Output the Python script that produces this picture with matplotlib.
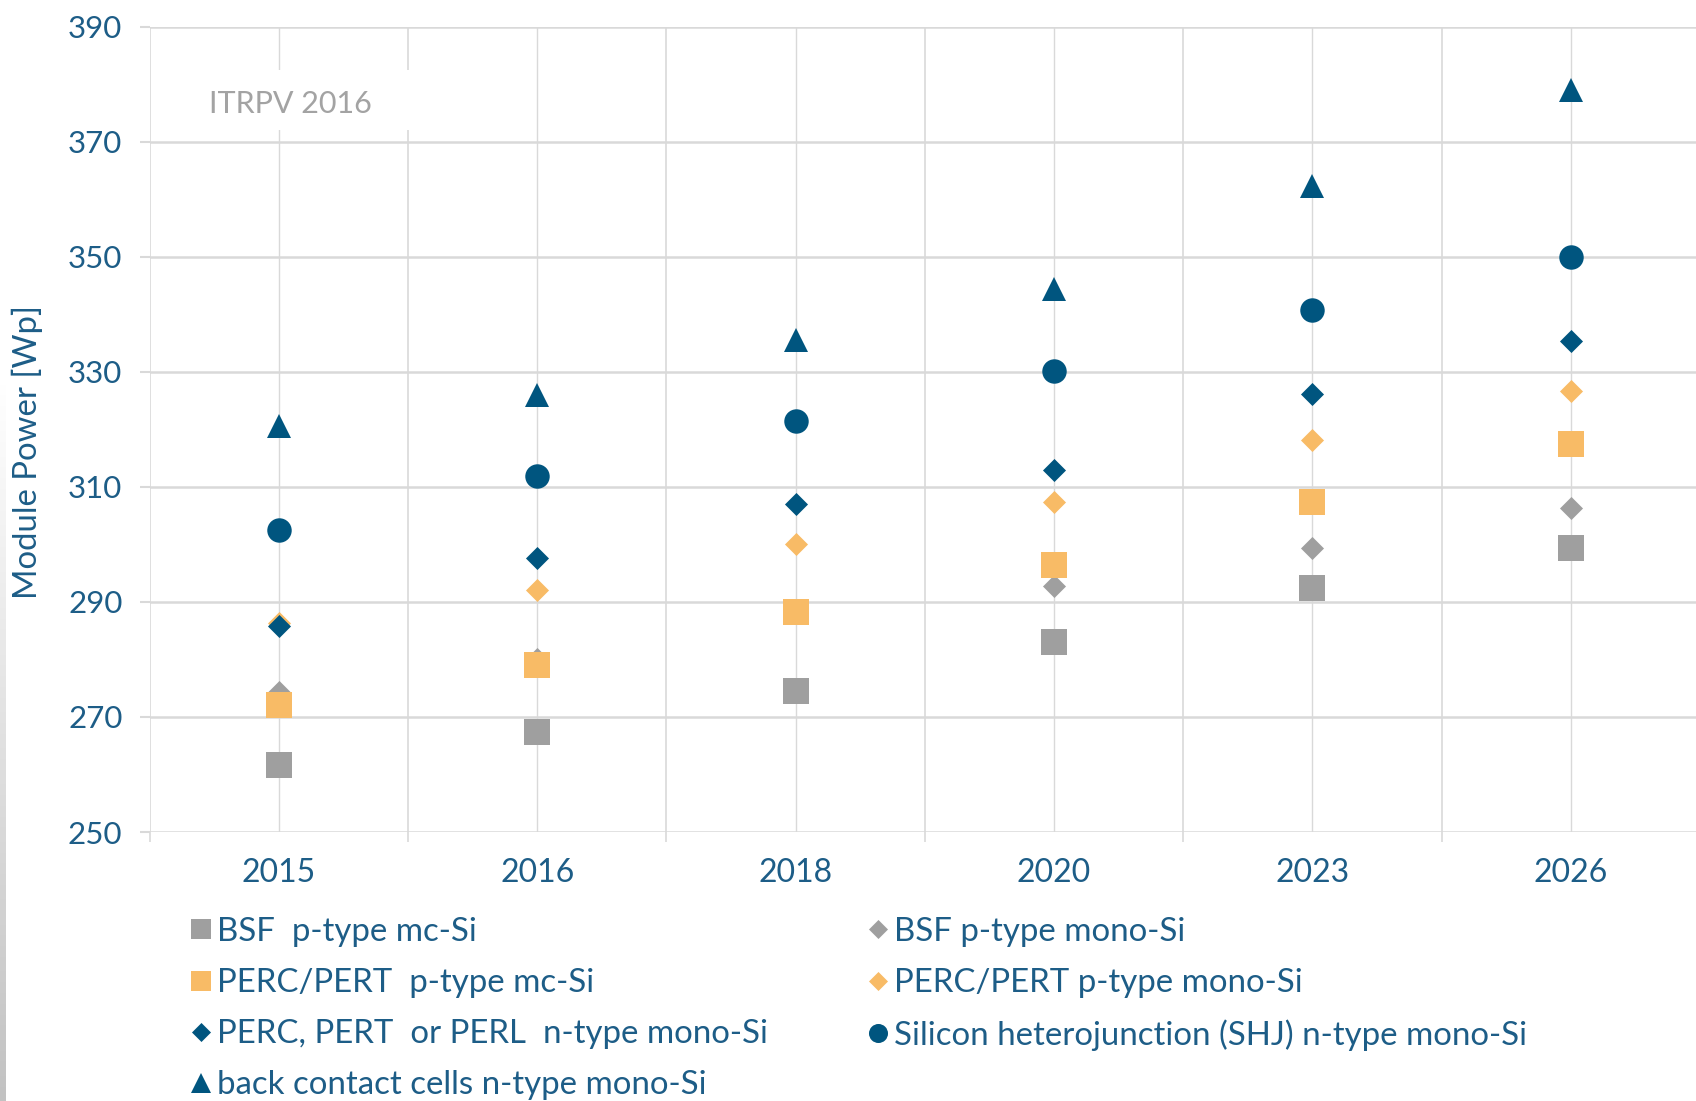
import numpy as np
import matplotlib
matplotlib.use("Agg")
import matplotlib.pyplot as plt
from matplotlib.path import Path
from matplotlib.lines import Line2D
from matplotlib.patches import Rectangle

# ---------------- data ----------------
years = ["2015", "2016", "2018", "2020", "2023", "2026"]
bsf_mc = [261.7, 267.3, 274.5, 283.1, 292.4, 299.4]
bsf_mono = [274.4, 280.0, 288.0, 292.8, 299.4, 306.3]
perc_mc = [272.1, 279.0, 288.3, 296.5, 307.4, 317.4]
perc_mono = [286.4, 292.1, 300.0, 307.3, 318.2, 326.7]
perc_n = [285.8, 297.7, 307.1, 312.9, 326.2, 335.4]
shj = [302.5, 311.9, 321.4, 330.2, 340.7, 349.9]
back_contact = [320.5, 326.0, 335.6, 344.4, 362.3, 379.0]

series_labels = [
    "BSF  p-type mc-Si",
    "BSF p-type mono-Si",
    "PERC/PERT  p-type mc-Si",
    "PERC/PERT p-type mono-Si",
    "PERC, PERT  or PERL  n-type mono-Si",
    "Silicon heterojunction (SHJ) n-type mono-Si",
    "back contact cells n-type mono-Si",
]
y_ticks = [250, 270, 290, 310, 330, 350, 370, 390]
y_label = "Module Power [Wp]"
watermark = "ITRPV 2016"

# ---------------- style ----------------
plt.rcParams['font.family'] = ['Lato', 'DejaVu Sans']
W, H = 1696, 1101
DARK = "#00557f"
ORANGE = "#f8bb66"
GRAY = "#9f9f9f"
TXT = "#1d5d87"
GRID = "#d9d9d9"

diamond = Path([(0, 1), (1, 0), (0, -1), (-1, 0), (0, 1)],
               [Path.MOVETO, Path.LINETO, Path.LINETO, Path.LINETO, Path.CLOSEPOLY])

styles = [
    (bsf_mc, "s", GRAY, 18.7, 14.4),
    (bsf_mono, diamond, GRAY, 16.6, 13.7),
    (perc_mc, "s", ORANGE, 18.7, 14.4),
    (perc_mono, diamond, ORANGE, 16.6, 13.7),
    (perc_n, diamond, DARK, 16.6, 13.7),
    (shj, "o", DARK, 17.6, 13.7),
    (back_contact, "^", DARK, 16.6, 13.7),
]

fig = plt.figure(figsize=(W / 100, H / 100), dpi=100)
fig.patch.set_facecolor("white")

left, right, top, bottom = 149.5, 1700, 26.7, 832
ax = fig.add_axes([left / W, 1 - bottom / H, (right - left) / W, (bottom - top) / H])
ax.set_facecolor("white")

x = np.arange(len(years))
handles = []
for (vals, mk, col, ms, lms), lab in zip(styles, series_labels):
    ax.plot(x, vals, linestyle="none", marker=mk, color=col, markersize=ms,
            markeredgewidth=0, zorder=3, clip_on=False)
    handles.append(Line2D([], [], linestyle="none", marker=mk, color=col,
                          markersize=lms, markeredgewidth=0, label=lab))

ax.set_xlim(-0.5, len(years) - 0.5)
ax.set_ylim(y_ticks[0], y_ticks[-1])
ax.set_xticks(x, years)
ax.set_xticks(np.arange(-0.5, len(years)), minor=True)
ax.set_yticks(y_ticks, [str(v) for v in y_ticks])

for s in ax.spines.values():
    s.set_visible(False)

ax.set_axisbelow(True)
ax.xaxis.grid(True, which="major", color=GRID, linewidth=1.0)
ax.xaxis.grid(True, which="minor", color=GRID, linewidth=1.2)
ax.yaxis.grid(True, which="major", color=GRID, linewidth=1.8)

ax.tick_params(axis="x", which="major", length=0, pad=19, labelsize=23, labelcolor=TXT)
ax.tick_params(axis="x", which="minor", length=7.5, width=1.2, color=GRID, direction="out")
ax.tick_params(axis="y", which="major", length=7.5, width=1.5, color=GRID, direction="out",
               pad=12, labelsize=22.5, labelcolor=TXT)

# y label
fig.text(27 / W, 1 - 452 / H, y_label, rotation=90, ha="center", va="center",
         fontsize=23.7, color=TXT)

# watermark with white box
ax.add_patch(Rectangle((190 / W, 1 - 130 / H), 225 / W, 60 / H, transform=fig.transFigure,
                       facecolor="white", edgecolor="none", zorder=1, clip_on=False))
fig.text(290 / W, 1 - 113 / H, watermark, ha="center", va="baseline",
         fontsize=22, color="#a3a3a3", zorder=2)

# legends
leg_kw = dict(loc="upper left", frameon=False, fontsize=23.8, handlelength=0.7,
              handletextpad=0.12, labelspacing=0.64, borderpad=0, borderaxespad=0,
              labelcolor=TXT)
order1 = [0, 2, 4, 6]
order2 = [1, 3, 5]
l1 = fig.legend([handles[i] for i in order1], [series_labels[i] for i in order1],
                bbox_to_anchor=(189.5 / W, 1 - 917 / H), **leg_kw)
l2 = fig.legend([handles[i] for i in order2], [series_labels[i] for i in order2],
                bbox_to_anchor=(866.5 / W, 1 - 917 / H), **leg_kw)

# faint page-edge shading on the left
sax = fig.add_axes([0, 0, 6 / W, 720 / H])
grad = np.linspace(0.0, 1.0, 200).reshape(-1, 1)
sax.imshow(grad, aspect="auto", cmap=matplotlib.colors.LinearSegmentedColormap.from_list(
    "edge", ["#c2c2c2", "#ffffff"]), origin="lower", extent=[0, 1, 0, 1])
sax.set_axis_off()

fig.savefig("out.png", dpi=100)
